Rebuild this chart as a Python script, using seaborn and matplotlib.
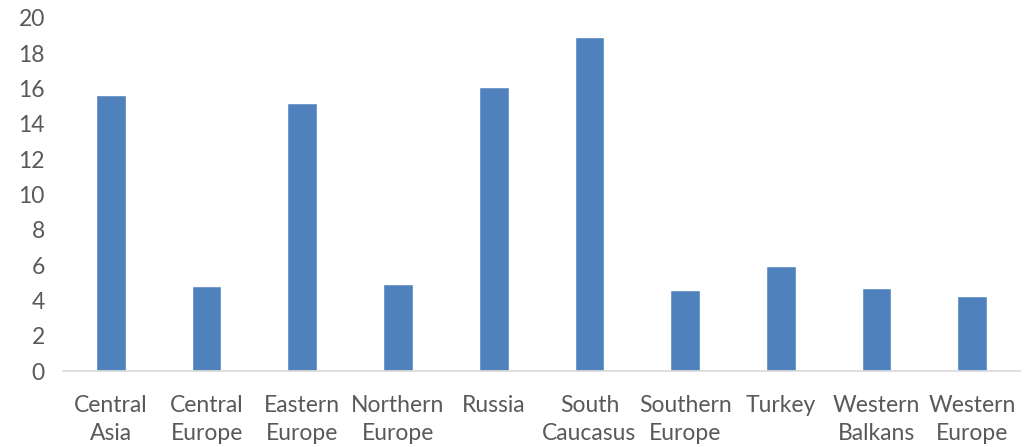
import matplotlib
matplotlib.use("Agg")
import matplotlib.pyplot as plt
import seaborn as sns
import pandas as pd

regions = ["Central\nAsia", "Central\nEurope", "Eastern\nEurope", "Northern\nEurope",
           "Russia\n", "South\nCaucasus", "Southern\nEurope", "Turkey\n",
           "Western\nBalkans", "Western\nEurope"]
values = [15.65, 4.82, 15.2, 4.93, 16.1, 18.92, 4.59, 5.95, 4.70, 4.27]
y_ticks = [0, 2, 4, 6, 8, 10, 12, 14, 16, 18, 20]

sns.set_theme(style="white")
plt.rcParams["font.family"] = ["Lato", "DejaVu Sans"]

df = pd.DataFrame({"region": regions, "value": values})

fig = plt.figure(figsize=(10.28, 4.47), dpi=100)
ax = fig.add_axes([0.0613, 0.170, 0.931, 0.790])
sns.barplot(data=df, x="region", y="value", order=regions, color="#4F81BD",
            saturation=1, width=0.31, ax=ax)

ax.set_ylim(0, 20)
ax.set_yticks(y_ticks)
ax.set_xlabel("")
ax.set_ylabel("")
for s in ["top", "right", "left"]:
    ax.spines[s].set_visible(False)
ax.spines["bottom"].set_color("#D9D9D9")
ax.spines["bottom"].set_linewidth(1.2)
ax.tick_params(axis="both", length=0, colors="#595959", labelsize=16.5)
ax.tick_params(axis="y", pad=13)
ax.tick_params(axis="x", pad=17)
for lbl in ax.get_xticklabels():
    lbl.set_linespacing(1.42)

fig.savefig("out.png", dpi=100)
